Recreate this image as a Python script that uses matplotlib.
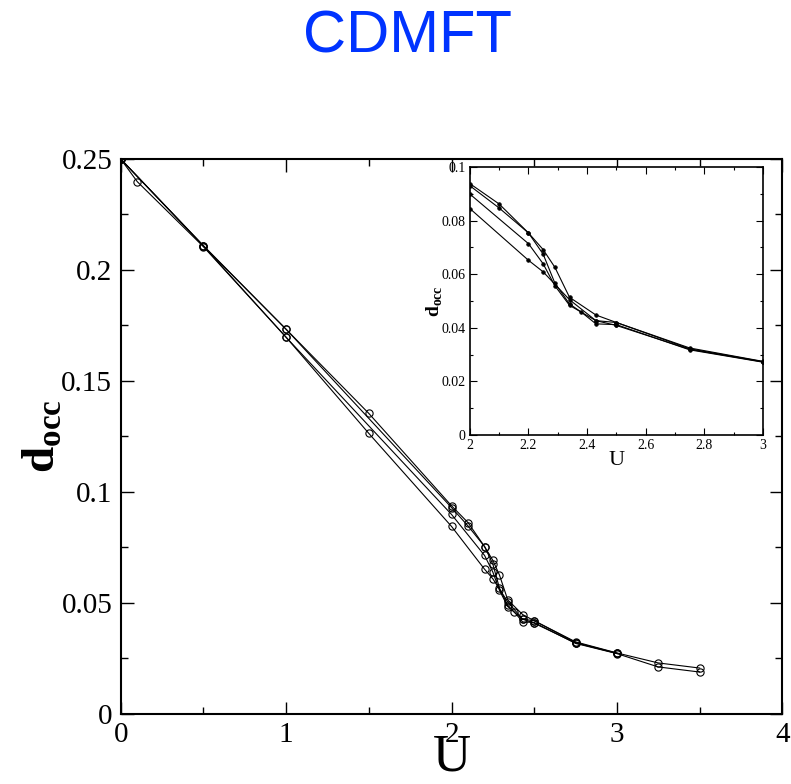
import matplotlib
matplotlib.use("Agg")
import matplotlib.pyplot as plt
from matplotlib.ticker import MultipleLocator, FuncFormatter

# double occupancy vs U, four CDMFT runs
u1 = [0, 0.5, 1, 1.5, 2, 2.1, 2.2, 2.25, 2.29, 2.34, 2.43, 2.5, 2.75, 3, 3.25, 3.5]
d1 = [0.25, 0.2110, 0.1733, 0.1354, 0.0938, 0.0862, 0.0754, 0.0692, 0.0626, 0.0514,
      0.0448, 0.0420, 0.0325, 0.0275, 0.0230, 0.0207]

u2 = [0, 0.5, 1, 2, 2.1, 2.2, 2.25, 2.29, 2.34, 2.38, 2.43, 2.5, 2.75, 3, 3.25, 3.5]
d2 = [0.25, 0.2108, 0.1733, 0.0930, 0.0847, 0.0754, 0.0675, 0.0567, 0.0489, 0.0459,
      0.0415, 0.0412, 0.0318, 0.0272, 0.0212, 0.0189]

u3 = [0, 0.1, 0.5, 1, 2, 2.2, 2.25, 2.29, 2.34, 2.43, 2.5, 2.75, 3]
d3 = [0.25, 0.2398, 0.2105, 0.1697, 0.0899, 0.0714, 0.0639, 0.0557, 0.0484, 0.0427,
      0.0409, 0.0320, 0.0273]

u4 = [0, 0.5, 1, 1.5, 2, 2.2, 2.25, 2.34, 2.43, 2.5, 2.75, 3]
d4 = [0.25, 0.2108, 0.1697, 0.1264, 0.0845, 0.0652, 0.0609, 0.0505, 0.0427, 0.0420,
      0.0322, 0.0274]

series = [(u1, d1), (u2, d2), (u3, d3), (u4, d4)]

plt.rcParams['font.family'] = 'Liberation Serif'
plt.rcParams['mathtext.fontset'] = 'custom'
plt.rcParams['mathtext.rm'] = 'Liberation Serif'
plt.rcParams['mathtext.bf'] = 'Liberation Serif:bold'


def g_fmt(v, pos):
    return '%g' % round(v, 6)


fig = plt.figure(figsize=(7.91, 7.84), dpi=100)
ax = fig.add_axes([0.1526, 0.0893, 0.8364, 0.7079])

for u, d in series:
    ax.plot(u, d, color='black', lw=0.8, marker='o', ms=5.2, mfc='none', mec='black', mew=0.8)

ax.set_xlim(0, 4)
ax.set_ylim(0, 0.25)
ax.xaxis.set_major_locator(MultipleLocator(1))
ax.xaxis.set_minor_locator(MultipleLocator(0.5))
ax.yaxis.set_major_locator(MultipleLocator(0.05))
ax.yaxis.set_minor_locator(MultipleLocator(0.025))
ax.xaxis.set_major_formatter(FuncFormatter(g_fmt))
ax.yaxis.set_major_formatter(FuncFormatter(g_fmt))
ax.tick_params(which='both', direction='in', top=True, right=True, width=1.0)
ax.tick_params(which='major', length=9, labelsize=21, pad=6)
ax.tick_params(which='minor', length=4.8)
for s in ax.spines.values():
    s.set_linewidth(1.5)

ax.set_xlabel('U', fontsize=38)
ax.xaxis.set_label_coords(0.5, -0.036)
ax.set_ylabel(r'$\mathbf{d}_{\mathbf{occ}}$', fontsize=34)
ax.yaxis.set_label_coords(-0.085, 0.5)

fig.text(0.515, 0.9324, 'CDMFT', color='#0033ff', fontsize=43,
         family='Liberation Sans', ha='center', va='baseline')

# inset zoom on the transition region
ins = fig.add_axes([0.594, 0.445, 0.3706, 0.342])
for u, d in series:
    ins.plot(u, d, color='black', lw=0.8, marker='o', ms=2.6, mfc='black', mec='black', mew=0.5)
ins.set_xlim(2, 3)
ins.set_ylim(0, 0.1)
ins.xaxis.set_major_locator(MultipleLocator(0.2))
ins.xaxis.set_minor_locator(MultipleLocator(0.1))
ins.yaxis.set_major_locator(MultipleLocator(0.02))
ins.yaxis.set_minor_locator(MultipleLocator(0.01))
ins.xaxis.set_major_formatter(FuncFormatter(g_fmt))
ins.yaxis.set_major_formatter(FuncFormatter(g_fmt))
ins.tick_params(which='both', direction='in', top=True, right=True, width=0.8)
ins.tick_params(which='major', length=5, labelsize=10, pad=3)
ins.tick_params(which='minor', length=2.5)
for s in ins.spines.values():
    s.set_linewidth(1.2)
ins.set_xlabel('U', fontsize=16)
ins.xaxis.set_label_coords(0.5, -0.06)
ins.set_ylabel(r'$\mathbf{d}_{\mathbf{occ}}$', fontsize=14)
ins.yaxis.set_label_coords(-0.085, 0.5)

fig.savefig('out.png', dpi=100)
